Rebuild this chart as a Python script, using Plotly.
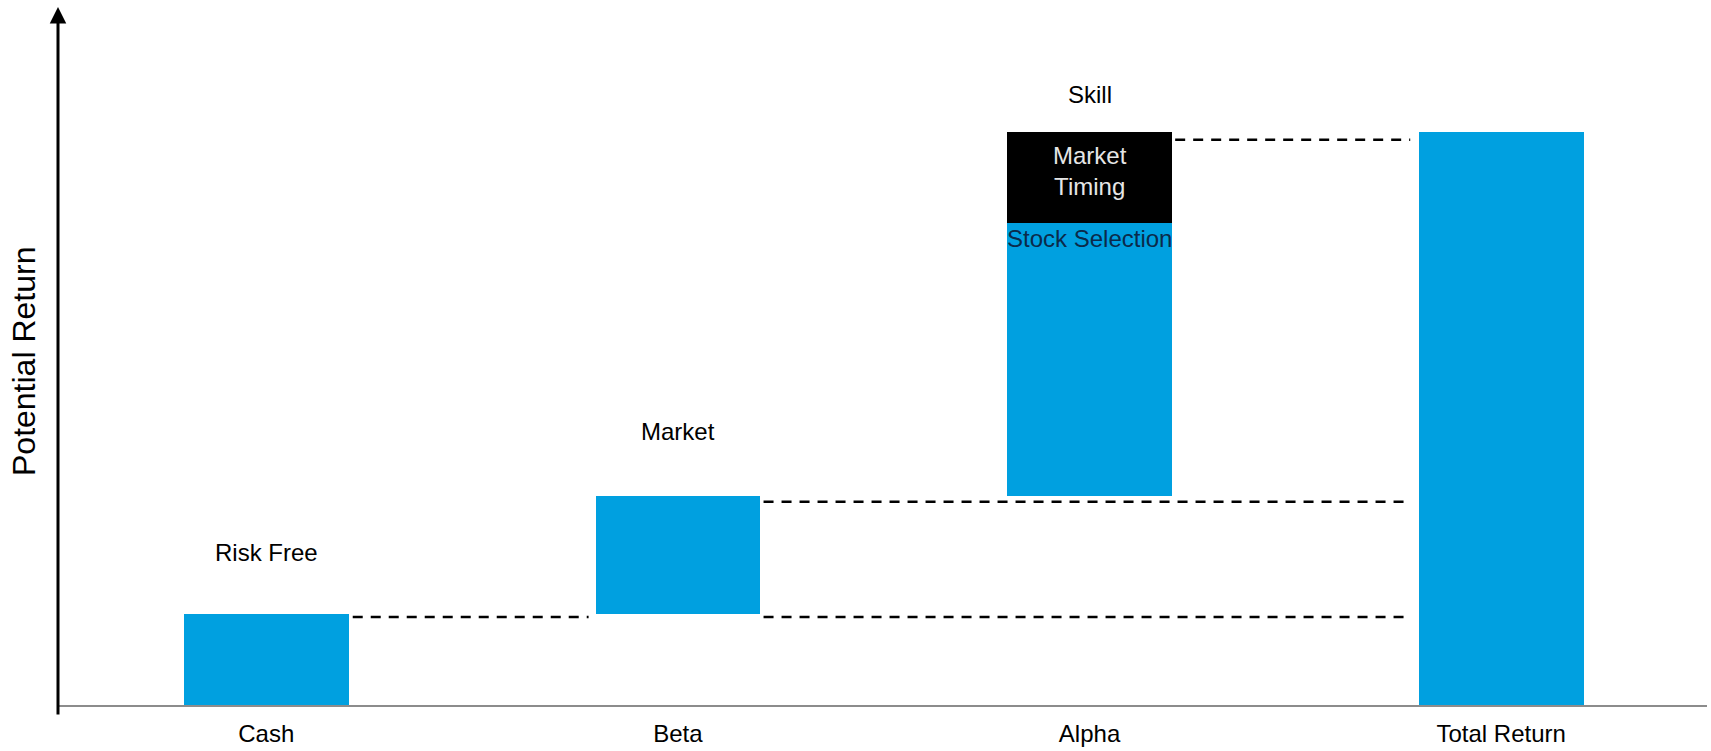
import plotly.graph_objects as go

# ---------------- data ----------------
categories = ["Cash", "Beta", "Alpha", "Total Return"]
segment_names = ["Risk Free", "Market", "Stock Selection", "Market Timing"]
segment_category = [0, 1, 2, 2]
segment_values = [2.0, 2.6, 6.0, 2.0]
header_labels = {0: "Risk Free", 1: "Market", 2: "Skill"}

# ---------------- derived ----------------
bases = []
run = 0.0
for v in segment_values:
    bases.append(run)
    run += v
total_value = run

BLUE = "#00A0E0"
BLACK = "#000000"
FONT = "Liberation Sans, Arial, sans-serif"
BAR_W = 0.4
YMAX = 15.30
LABEL_SIZE = 24

fig = go.Figure()

# blue bars: Cash, Beta, Alpha (stock selection), Total
blue_x = [segment_category[0], segment_category[1], segment_category[2], 3]
blue_y = [segment_values[0], segment_values[1], segment_values[2], total_value]
blue_base = [bases[0], bases[1], bases[2], 0.0]
fig.add_trace(go.Bar(
    x=blue_x, y=blue_y, base=blue_base, width=BAR_W,
    marker=dict(color=BLUE, line=dict(width=0)),
    hoverinfo="skip", showlegend=False,
))
# black bar: market timing
fig.add_trace(go.Bar(
    x=[segment_category[3]], y=[segment_values[3]], base=[bases[3]], width=BAR_W,
    marker=dict(color=BLACK, line=dict(width=0)),
    hoverinfo="skip", showlegend=False,
))

# dashed connectors
level_cash = bases[0] + segment_values[0]
level_beta = bases[1] + segment_values[1]
level_alpha = bases[3] + segment_values[3]
connectors = [
    (0 + BAR_W / 2 + 0.01, 1 - BAR_W / 2 - 0.017, level_cash, -3),
    (1 + BAR_W / 2 + 0.008, 3 - BAR_W / 2 - 0.021, level_cash, -3),
    (1 + BAR_W / 2 + 0.008, 3 - BAR_W / 2 - 0.021, level_beta, -6),
    (2 + BAR_W / 2 + 0.008, 3 - BAR_W / 2 - 0.021, level_alpha, -8),
]
for x0, x1, lvl, off in connectors:
    fig.add_shape(
        type="line", xref="x", yref="y", ysizemode="pixel", yanchor=lvl,
        x0=x0, x1=x1, y0=off, y1=off,
        line=dict(color="black", width=2.5, dash="10px,8px"),
    )

# header labels above bars
tops = {0: level_cash, 1: level_beta, 2: level_alpha}
shifts = {0: 62, 1: 64, 2: 37}
for idx, txt in header_labels.items():
    fig.add_annotation(
        x=idx, y=tops[idx], xref="x", yref="y", text=txt, showarrow=False,
        yshift=shifts[idx], yanchor="middle",
        font=dict(family=FONT, size=LABEL_SIZE, color="black"),
    )

# inner labels
fig.add_annotation(
    x=segment_category[3], y=level_alpha, xref="x", yref="y",
    text="Market<br>Timing", showarrow=False, yshift=-39, yanchor="middle",
    font=dict(family=FONT, size=LABEL_SIZE, color="#E6E6E6"),
)
fig.add_annotation(
    x=segment_category[2], y=bases[2] + segment_values[2], xref="x", yref="y",
    text="Stock Selection", showarrow=False, yshift=-16, yanchor="middle",
    font=dict(family=FONT, size=LABEL_SIZE, color="#0B2A4A"),
)

# y-axis arrow (tip slightly above plot top)
fig.add_annotation(
    x=0, y=1, xref="paper", yref="paper", ax=0, ay=709, axref="pixel", ayref="pixel",
    yshift=2,
    showarrow=True, arrowhead=2, arrowsize=1.1, arrowwidth=3, arrowcolor="black",
    text="",
)
# y-axis title
fig.add_annotation(
    x=0, y=0.5, xref="paper", yref="paper", text="Potential Return", showarrow=False,
    textangle=-90, xanchor="center", yanchor="middle", xshift=-34, yshift=-5,
    font=dict(family=FONT, size=32, color="black"),
)

fig.update_layout(
    width=1711, height=751,
    margin=dict(l=58, r=4, t=9, b=35),
    paper_bgcolor="white", plot_bgcolor="white",
    barmode="overlay", bargap=0, showlegend=False,
    xaxis=dict(
        range=[-0.506, 3.5], tickmode="array", tickvals=[0, 1, 2, 3], ticktext=categories,
        showgrid=False, zeroline=False, showline=True, linecolor="#8C8C8C", linewidth=2,
        ticks="", ticklabelstandoff=6,
        tickfont=dict(family=FONT, size=LABEL_SIZE, color="black"),
    ),
    yaxis=dict(
        range=[0, YMAX], showgrid=False, zeroline=False, showline=False,
        showticklabels=False, ticks="",
    ),
)

fig.write_html("out.html", post_script="document.body.style.margin='0';",
               config={"displayModeBar": False})
